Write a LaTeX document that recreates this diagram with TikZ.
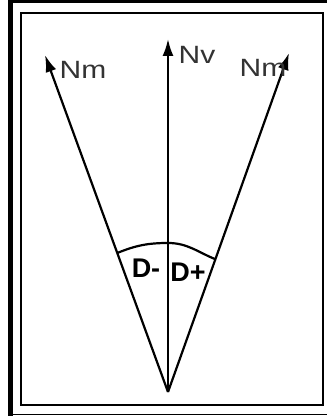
\documentclass[tikz,border=0pt]{standalone}
\usepackage{fontspec}
\setmainfont{Liberation Sans}
\usetikzlibrary{arrows.meta,calc}
\tikzset{
  ray/.style={line width=2.2pt, -{Latex[length=17pt,width=11pt]}},
  lbl/.style={text=black!80, font=\fontsize{25}{25}\selectfont, inner sep=0pt, xscale=1.2},
  dlbl/.style={font=\fontsize{27}{27}\selectfont\bfseries, inner sep=0pt}
}
\begin{document}
\begin{tikzpicture}[x=1pt,y=1pt]
\useasboundingbox (0,0) rectangle (327,416);
% outer frame
\fill[black] (8,413) rectangle (327,416);
\fill[black] (8,0) rectangle (13,416);
\draw[line width=1.5pt] (13,1.5) -- (327,1.5);
% inner frame
\draw[line width=2.2pt] (21,11) rectangle (323,403);
% geometry
\coordinate (O) at (168,24);
\coordinate (L) at (45,361);
\coordinate (V) at (168,377);
\coordinate (R) at (289,363);
\draw[ray] (O) -- (L);
\draw[ray] (O) -- (V);
\draw[ray] (O) -- (R);
\coordinate (A) at ($(O)!148pt!(L)$);
\coordinate (T) at (168,173);
\coordinate (B) at ($(O)!141pt!(R)$);
\draw[line width=2.2pt] (A) to[out=22,in=180] (T) to[out=0,in=158] (B);
% labels
\node[lbl] (nml) at (83,346) {Nm};
\node[lbl] (nv) at (197,361) {Nv};
\node[lbl] (nmr) at (263,348) {Nm};
\node[dlbl] (dm) at (146,148) {D-};
\node[dlbl] (dp) at (188,144) {D+};
\end{tikzpicture}
\end{document}
